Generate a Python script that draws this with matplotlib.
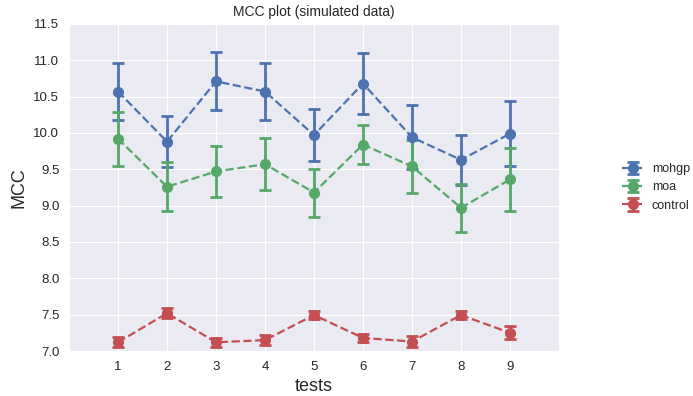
import numpy as np
import matplotlib
matplotlib.use("Agg")
import matplotlib.pyplot as plt
import seaborn as sns

sns.set_style("darkgrid")
plt.rcParams['font.family'] = ['Liberation Sans', 'DejaVu Sans']

tests = [1, 2, 3, 4, 5, 6, 7, 8, 9]

mohgp = [10.57, 9.88, 10.71, 10.57, 9.97, 10.68, 9.94, 9.63, 9.99]
mohgp_err = [0.39, 0.35, 0.40, 0.39, 0.36, 0.42, 0.44, 0.34, 0.45]

moa = [9.92, 9.26, 9.47, 9.57, 9.18, 9.84, 9.54, 8.97, 9.36]
moa_err = [0.37, 0.34, 0.35, 0.36, 0.33, 0.27, 0.36, 0.33, 0.43]

control = [7.12, 7.52, 7.12, 7.15, 7.495, 7.18, 7.13, 7.495, 7.25]
control_err = [0.07, 0.07, 0.06, 0.07, 0.06, 0.06, 0.07, 0.06, 0.09]

colors = ["#4C72B0", "#55A868", "#C44E52"]

fig = plt.figure(figsize=(6.93, 3.96), dpi=100)
ax = fig.add_axes([0.0996, 0.1136, 0.707, 0.826])

series = [("mohgp", mohgp, mohgp_err), ("moa", moa, moa_err), ("control", control, control_err)]
for (name, vals, err), c in zip(series, colors):
    ax.errorbar(tests, vals, yerr=err, fmt='o--', color=c, label=name,
                markersize=7, linewidth=1.6, elinewidth=2, capsize=4, capthick=2)

ax.set_xlim(0, 10)
ax.set_ylim(7.0, 11.5)
ax.set_xticks(tests)
ax.set_yticks(np.arange(7.0, 11.51, 0.5))
ax.set_yticklabels(["%.1f" % v for v in np.arange(7.0, 11.51, 0.5)])
ax.tick_params(labelsize=9.5)
ax.set_title("MCC plot (simulated data)", fontsize=10)
ax.set_xlabel("tests", fontsize=13)
ax.set_ylabel("MCC", fontsize=13)
ax.legend(loc="center left", bbox_to_anchor=(1.105, 0.5), fontsize=9,
          frameon=False, handlelength=1.8, handletextpad=0.6)

fig.savefig("out.png", dpi=100)
